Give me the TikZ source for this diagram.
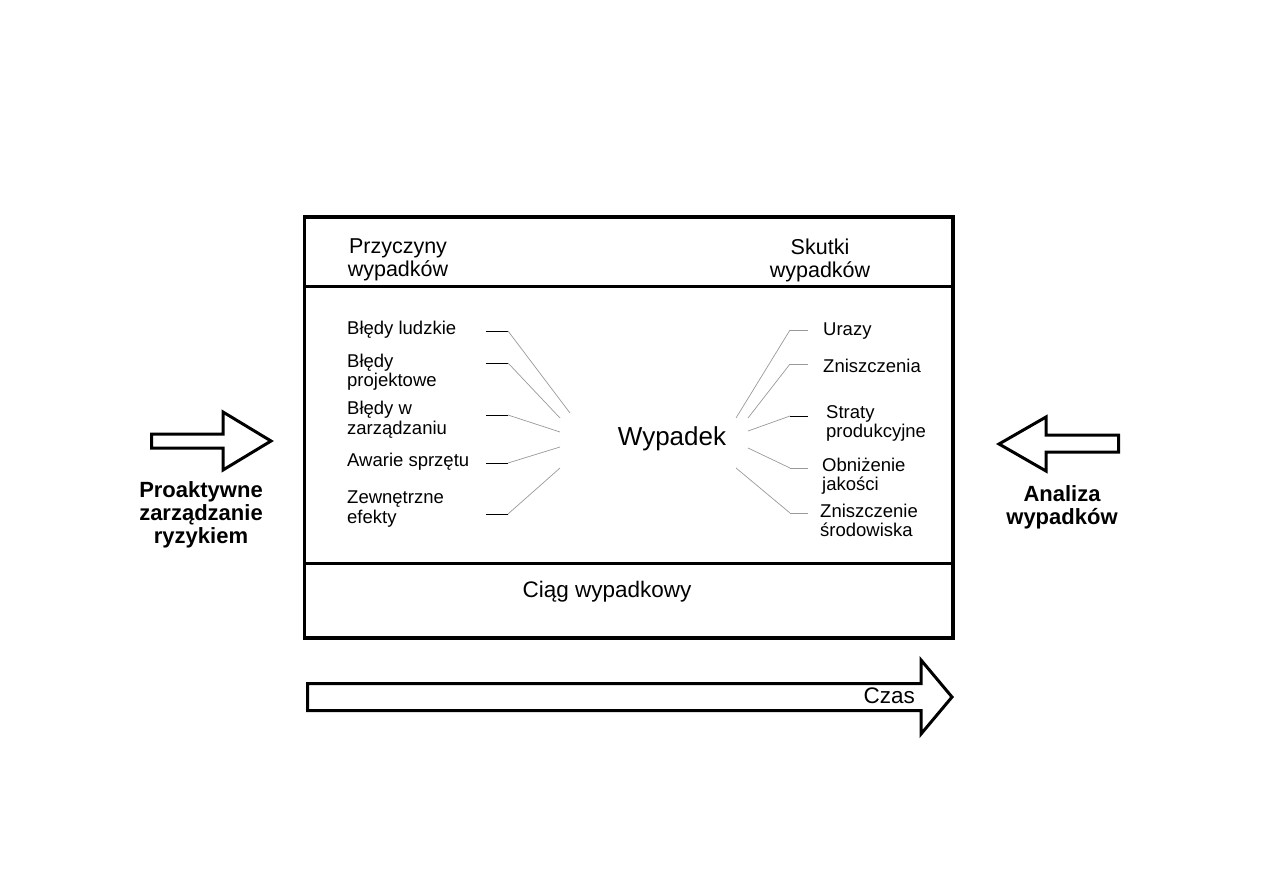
\documentclass[tikz,border=0pt]{standalone}
\usepackage{fontspec}
\setmainfont{Liberation Sans}
\usetikzlibrary{positioning}

\begin{document}
\begin{tikzpicture}[
  x=1pt, y=-1pt,
  frame/.style={line width=3.5pt},
  divider/.style={line width=2.5pt},
  blockarrow/.style={draw, line width=3pt, line join=miter, fill=white},
  headtext/.style={align=center, inner sep=0pt, font=\fontsize{21.5}{23}\selectfont},
  labeltext/.style={anchor=west, align=left, inner sep=0pt, font=\fontsize{18.5}{19.5}\selectfont},
  sidetext/.style={align=center, inner sep=0pt, font=\bfseries\fontsize{22}{23}\selectfont},
  stub/.style={black, line width=1pt},
  ray/.style={black!40, line width=0.7pt},
]
\useasboundingbox (0,0) rectangle (1263,893);

%% ── Main frame ───────────────────────────────────────────────────────────────
\draw[frame] (304.5,217) rectangle (953,638);
\coordinate (topl) at (304.5,286.5);
\coordinate (topr) at (953,286.5);
\coordinate (botl) at (304.5,563.5);
\coordinate (botr) at (953,563.5);
\draw[divider] (topl) -- (topr);
\draw[divider] (botl) -- (botr);

%% ── Headers ──────────────────────────────────────────────────────────────────
\node[headtext] (causes)  at (398,260) {Przyczyny\\wypadków};
\node[headtext] (effects) at (820,260) {Skutki\\wypadków};

%% ── Centre and sequence ──────────────────────────────────────────────────────
\node[inner sep=0pt, anchor=base, font=\fontsize{26}{30}\selectfont] (wyp) at (672,445) {Wypadek};
\node[inner sep=0pt, anchor=base, font=\fontsize{22.5}{26}\selectfont] (ciag) at (607,597) {Ciąg wypadkowy};

%% ── Causes (left) ────────────────────────────────────────────────────────────
\foreach \i/\txt/\ty/\hy/\ex/\ey in {
  1/{Błędy ludzkie}/329.6/331/570/413,
  2/{Błędy\\projektowe}/372/363/560/418,
  3/{Błędy w\\zarządzaniu}/419.6/415/560/432,
  4/{Awarie sprzętu}/461.6/463/560/447,
  5/{Zewnętrzne\\efekty}/509/514/560/468} {
  \node[labeltext] (cause\i) at (347,\ty) {\txt};
  \coordinate (cs\i) at (486,\hy);
  \coordinate (ck\i) at (508,\hy);
  \coordinate (ce\i) at (\ex,\ey);
  \draw[stub] (cs\i) -- (ck\i);
  \draw[ray] (ck\i) -- (ce\i);
}

%% ── Effects (right) ──────────────────────────────────────────────────────────
\foreach \i/\txt/\tx/\ty/\hy/\ex/\ey/\sty in {
  1/{Urazy}/823/331.5/330/736/418/ray,
  2/{Zniszczenia}/823/366/364/748/418/ray,
  3/{Straty\\produkcyjne}/826/423.5/416/748/431/stub,
  4/{Obniżenie\\jakości}/822/476/468/748/448/ray,
  5/{Zniszczenie\\środowiska}/820/520.5/513/736/468/ray} {
  \node[labeltext] (effect\i) at (\tx,\ty) {\txt};
  \coordinate (es\i) at (808,\hy);
  \coordinate (ek\i) at (790,\hy);
  \coordinate (ee\i) at (\ex,\ey);
  \draw[\sty] (es\i) -- (ek\i);
  \draw[ray] (ek\i) -- (ee\i);
}

%% ── Side arrows ──────────────────────────────────────────────────────────────
\draw[blockarrow] (151.5,434) -- (223,434) -- (223,412) -- (271,441)
  -- (223,470) -- (223,448) -- (151.5,448) -- cycle;
\node[sidetext] (proact) at (201,515) {Proaktywne\\zarządzanie\\ryzykiem};

\draw[blockarrow] (1118.5,435) -- (1046,435) -- (1046,417) -- (999,444)
  -- (1046,471) -- (1046,452) -- (1118.5,452) -- cycle;
\node[sidetext] (anal) at (1062,507) {Analiza\\wypadków};

%% ── Time arrow ───────────────────────────────────────────────────────────────
\draw[blockarrow] (307.5,683.5) -- (921,683.5) -- (921,660) -- (952,697)
  -- (921,734) -- (921,710.5) -- (307.5,710.5) -- cycle;
\node[inner sep=0pt, anchor=base east, font=\fontsize{22.5}{26}\selectfont] (czas) at (915,703) {Czas};

\end{tikzpicture}
\end{document}
